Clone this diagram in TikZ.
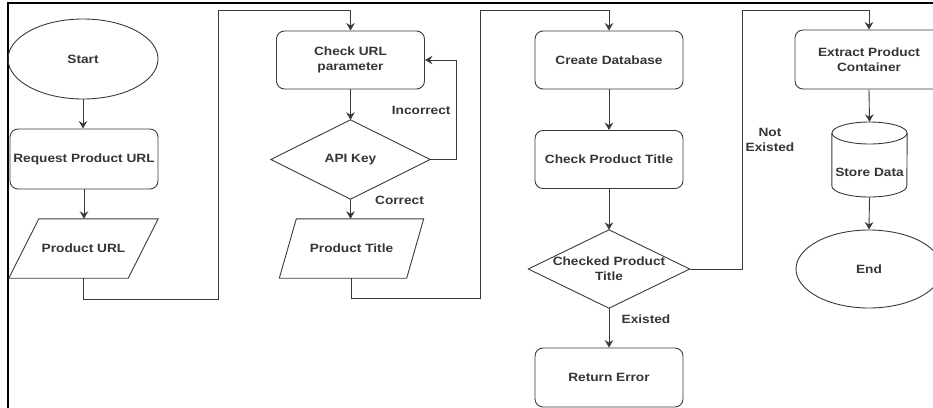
\documentclass[tikz,border=0pt]{standalone}
\usepackage{fontspec}
\newfontfamily\lbl[FakeStretch=1.14]{Liberation Sans}
\usetikzlibrary{shapes.geometric,arrows.meta}
\definecolor{ink}{HTML}{3A3A3A}
\definecolor{txt}{HTML}{353535}

\begin{document}
\begin{tikzpicture}[x=1pt,y=-1pt,
  every node/.style={font=\lbl\bfseries\fontsize{12}{15}\selectfont, text=txt, align=center},
  shapeline/.style={draw=ink, line width=0.9pt},
  proc/.style={shapeline, rectangle, rounded corners=8pt, minimum width=148pt, minimum height=58pt, inner sep=0pt},
  term/.style={shapeline, ellipse, inner sep=0pt},
  frame/.style={inner sep=0pt},
  flow/.style={draw=ink, line width=0.9pt, -{Stealth[length=7.5pt,width=8.5pt,inset=2.5pt]}},
]
\useasboundingbox (0,0) rectangle (933,407);
\clip (0,0) rectangle (933,407);

% outer frame (top and left edges)
\draw[line width=2pt, black] (8.2,410) -- (8.2,2.5) -- (935,2.5);

% ---------- column 1 ----------
\node[term, minimum width=150pt, minimum height=80pt] (start) at (83,59) {Start};
\node[proc, minimum height=60pt] (req) at (84,159) {Request Product URL};
\node[frame, minimum width=149pt, minimum height=59pt] (purl) at (83.5,248.5) {Product URL};
\draw[shapeline] (purl.south west) -- ([xshift=30pt]purl.north west) -- (purl.north east)
  -- ([xshift=-30pt]purl.south east) -- cycle;

\draw[flow] (start.south) -- (start.south |- req.north);
\draw[flow] (req.south) -- (req.south |- purl.north);

% ---------- column 2 ----------
\node[proc] (chk) at (350.5,60) {Check URL\\parameter};
\node[frame, minimum width=159pt, minimum height=79pt] (api) at (350.5,159.5) {API Key};
\draw[shapeline] (api.north) -- (api.east) -- (api.south) -- (api.west) -- cycle;
\node[frame, minimum width=144pt, minimum height=59pt] (ptitle) at (351.5,248.5) {Product Title};
\draw[shapeline] (ptitle.south west) -- ([xshift=17pt]ptitle.north west) -- (ptitle.north east)
  -- ([xshift=-17pt]ptitle.south east) -- cycle;

\draw[flow] (purl.south) -- ++(0,21) -| (218,10) -| (chk.north);
\draw[flow] (chk.south) -- (api.north);
\draw[flow] (api.east) -- ++(26,0) |- (chk.east);
\draw[flow] (api.south) -- (api.south |- ptitle.north);
\node[anchor=east] (lincorrect) at (454,110) {Incorrect};
\node (lcorrect) at (399.5,200) {Correct};

% ---------- column 3 ----------
\node[proc] (cdb) at (609,60) {Create Database};
\node[proc] (cpt) at (609,159.5) {Check Product Title};
\node[frame, minimum width=161pt, minimum height=78pt] (chd) at (609,269) {Checked Product\\Title};
\draw[shapeline] (chd.north) -- (chd.east) -- (chd.south) -- (chd.west) -- cycle;
\node[proc, minimum height=59pt] (rerr) at (609,377.5) {Return Error};

\draw[flow] (ptitle.south) -- ++(0,20) -| (480,10) -| (cdb.north);
\draw[flow] (cdb.south) -- (cpt.north);
\draw[flow] (cpt.south) -- (chd.north);
\draw[flow] (chd.south) -- (rerr.north);
\node (lexisted) at (646,319) {Existed};

% ---------- column 4 ----------
\node[proc, minimum height=59pt] (epc) at (869,59.5) {Extract Product\\Container};
% cylinder: outline box, drawn caps and sides, label in the body
\node[frame, minimum width=75pt, minimum height=75pt] (store) at (869.5,159.5) {};
\draw[shapeline] (869.5,133) ellipse [x radius=37.5pt, y radius=11pt];
\draw[shapeline] (store.west |- 0,133) -- (store.west |- 0,186)
  arc [start angle=180, end angle=360, x radius=37.5pt, y radius=11pt] -- (store.east |- 0,133);
\node (storetxt) at (869.5,172) {Store Data};
\node[term, minimum width=146pt, minimum height=78pt] (end) at (869,269) {End};

\draw[flow] (chd.east) -| (742,10) -| (epc.north);
\node (lnot) at (770,140) {Not\\Existed};
\draw[flow] (epc.south) -- (store.north);
\draw[flow] (store.south) -- (end.north);
\end{tikzpicture}
\end{document}
